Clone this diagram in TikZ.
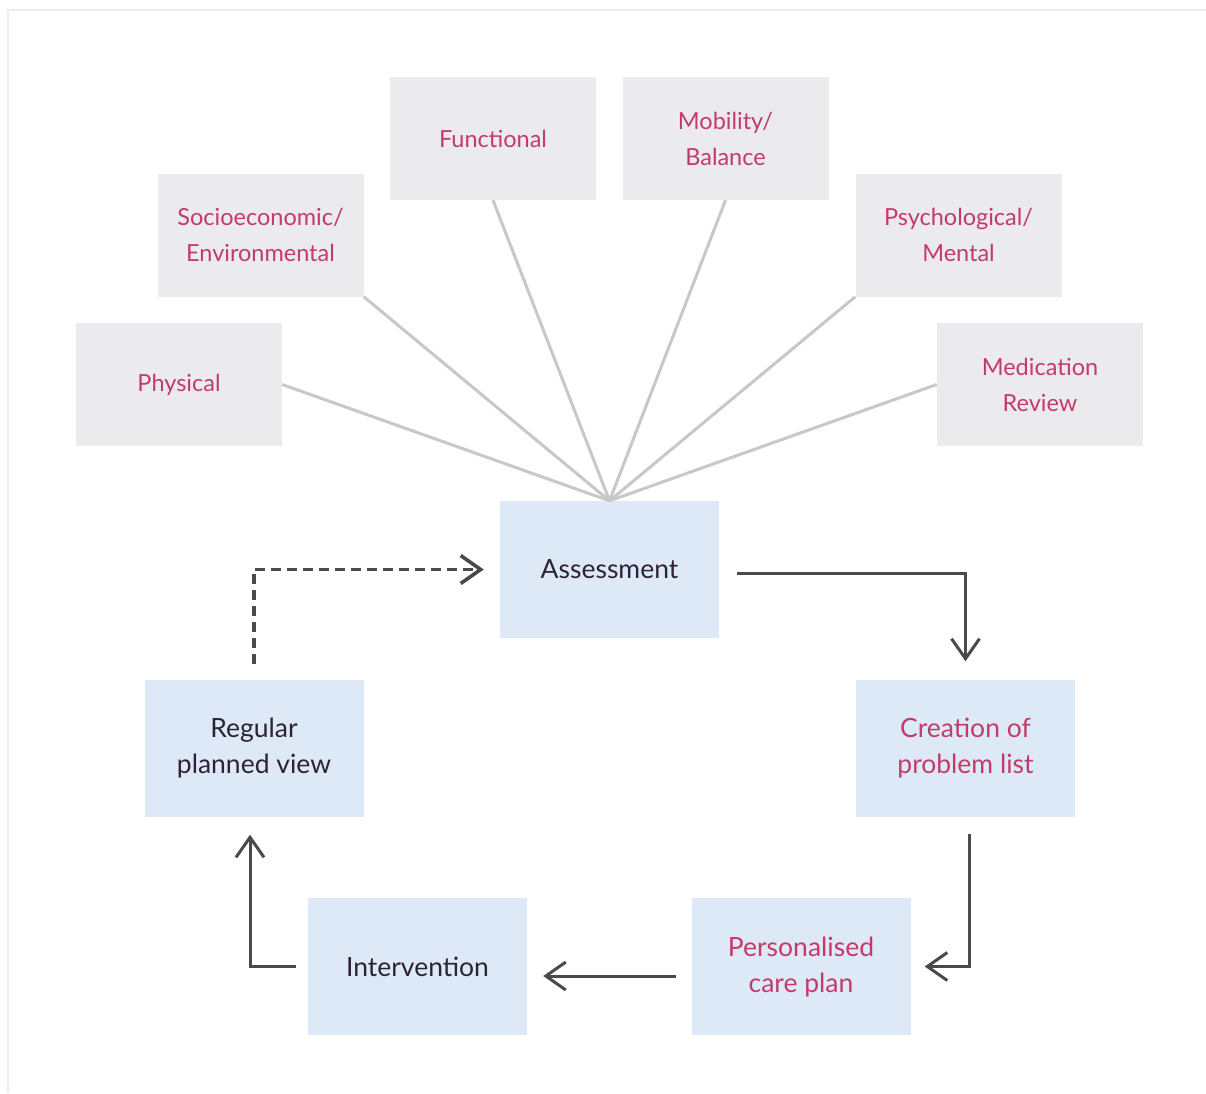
\documentclass[tikz,border=0pt]{standalone}
\usepackage{fontspec}
\setmainfont{Lato}
\usetikzlibrary{arrows.meta}
\definecolor{graybox}{HTML}{EBEBEE}
\definecolor{bluebox}{HTML}{DDE9F6}
\definecolor{pinktext}{HTML}{C43A6B}
\definecolor{darktext}{HTML}{2E2238}
\definecolor{arrowcol}{HTML}{4A4A4A}
\definecolor{spoke}{HTML}{C8C8C8}
\definecolor{framecol}{HTML}{EDEDED}
\begin{document}
\begin{tikzpicture}[x=1pt,y=-1pt,
  factor/.style={fill=graybox, minimum width=206pt, minimum height=123pt, text=pinktext,
    font=\fontsize{23.5}{36}\selectfont, align=center, inner sep=0pt},
  stage/.style={fill=bluebox, minimum width=219pt, minimum height=137pt,
    font=\fontsize{26.5}{36}\selectfont, align=center, inner sep=0pt},
  darkstage/.style={stage, text=darktext},
  pinkstage/.style={stage, text=pinktext},
  spokeline/.style={draw=spoke, line width=3pt},
  flow/.style={draw=arrowcol, line width=3pt, -{Straight Barb[length=20pt, width=28pt]}},
  dashflow/.style={flow, line width=3.6pt, dash pattern=on 10pt off 6pt}
]
\useasboundingbox[fill=white] (0,0) rectangle (1206,1093);
\draw[framecol, line width=2pt] (8,1093) -- (8,10) -- (1206,10);

% assessment domains
\node[factor] (phys)  at (179,384.5)   {\raisebox{-3pt}{Physical}};
\node[factor] (socio) at (260.5,235)   {Socioeconomic/\\Environmental};
\node[factor] (func)  at (493,138.5)   {Functional};
\node[factor] (mob)   at (725.5,138.5) {Mobility/\\Balance};
\node[factor] (psych) at (958.5,235)   {Psychological/\\Mental};
\node[factor] (med)   at (1040,384.5)  {Medication\\Review};

% cycle stages
\node[darkstage] (assess)   at (609.5,569.5) {Assessment};
\node[pinkstage] (creation) at (965.5,748)   {Creation of\\problem list};
\node[pinkstage] (personal) at (801,966.5)   {Personalised\\care plan};
\node[darkstage] (interv)   at (417.5,966.5) {Intervention};
\node[darkstage] (regular)  at (254,748)     {Regular\\planned view};

% spokes
\draw[spokeline] (phys.east) -- (assess.north);
\draw[spokeline] (socio.south east) -- (assess.north);
\draw[spokeline] (func.south) -- (assess.north);
\draw[spokeline] (mob.south) -- (assess.north);
\draw[spokeline] (psych.south west) -- (assess.north);
\draw[spokeline] (med.west) -- (assess.north);

% cycle arrows
\draw[flow] ([xshift=18pt,yshift=-4pt]assess.east) -| ([yshift=18pt]creation.north);
\draw[flow] ([xshift=4pt,yshift=-17pt]creation.south) |- ([xshift=14pt]personal.east);
\draw[flow] ([xshift=-15pt,yshift=-9.5pt]personal.west) -- ([xshift=16pt,yshift=-9.5pt]interv.east);
\draw[flow] ([xshift=-12pt]interv.west) -| ([xshift=-4pt,yshift=-18pt]regular.south);
\draw[dashflow] ([yshift=15pt]regular.north) |- ([xshift=-16pt]assess.west);
\end{tikzpicture}
\end{document}
